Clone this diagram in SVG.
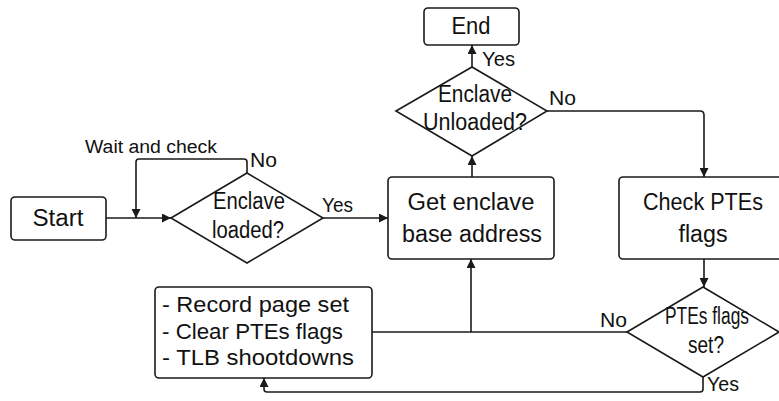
<svg xmlns="http://www.w3.org/2000/svg" width="779" height="401" viewBox="0 0 779 401">
<style>
.box{fill:#fff;stroke:#1a1a1a;stroke-width:1.6}
.dia{fill:#fff;stroke:#1a1a1a;stroke-width:1.6;stroke-linejoin:miter}
.ln{fill:none;stroke:#1a1a1a;stroke-width:1.6}
text{font-family:"Liberation Sans",Arial,sans-serif;fill:#111}
.t{font-size:23px;text-anchor:middle}
.d{font-size:23px;text-anchor:middle}
.l{font-size:21px}
.s{font-size:18px}
.r{font-size:22px}
</style>
<defs>
<marker id="ah" viewBox="0 0 10 10" refX="10" refY="5" markerWidth="9" markerHeight="9" orient="auto" markerUnits="userSpaceOnUse">
<path d="M0,0 L10,5 L0,10 z" fill="#1a1a1a"/>
</marker>
</defs>
<rect width="779" height="401" fill="#fff"/>
<g id="connectors">
<path class="ln" d="M106,218 H171" marker-end="url(#ah)"/>
<path class="ln" d="M247,173 V162 Q247,159 244,159 H139 Q136,159 136,162 V218" marker-end="url(#ah)"/>
<path class="ln" d="M323,218 H388" marker-end="url(#ah)"/>
<path class="ln" d="M472,177 V156" marker-end="url(#ah)"/>
<path class="ln" d="M472,67 V45" marker-end="url(#ah)"/>
<path class="ln" d="M547,111 H700 Q704,111 704,115 V177" marker-end="url(#ah)"/>
<path class="ln" d="M704,259 V287" marker-end="url(#ah)"/>
<path class="ln" d="M627,332 H372"/>
<path class="ln" d="M471,332 V259" marker-end="url(#ah)"/>
<path class="ln" d="M703,377 V389 Q703,392 700,392 H267 Q264,392 264,389 V378" marker-end="url(#ah)"/>
<text class="s" x="85" y="153" textLength="132" lengthAdjust="spacingAndGlyphs">Wait and check</text>
<text class="l" x="250" y="167" textLength="27" lengthAdjust="spacingAndGlyphs">No</text>
<text class="l" x="322" y="212" textLength="31" lengthAdjust="spacingAndGlyphs">Yes</text>
<text class="l" x="482" y="66" textLength="33" lengthAdjust="spacingAndGlyphs">Yes</text>
<text class="l" x="549" y="105" textLength="27" lengthAdjust="spacingAndGlyphs">No</text>
<text class="l" x="600" y="327" textLength="27" lengthAdjust="spacingAndGlyphs">No</text>
<text class="l" x="707" y="391" textLength="32" lengthAdjust="spacingAndGlyphs">Yes</text>
</g>
<g id="start">
<rect class="box" x="11" y="197" width="95" height="43" rx="4"/>
<text class="t" x="58" y="226" textLength="51" lengthAdjust="spacingAndGlyphs">Start</text>
</g>
<g id="enclave-loaded">
<polygon class="dia" points="171,218 247,173 323,218 247,263"/>
<text class="d" x="249" y="209" textLength="72" lengthAdjust="spacingAndGlyphs">Enclave</text>
<text class="d" x="248" y="238" textLength="72" lengthAdjust="spacingAndGlyphs">loaded?</text>
</g>
<g id="get-base">
<rect class="box" x="388" y="177" width="166" height="82" rx="4"/>
<text class="t" x="471" y="210" textLength="127" lengthAdjust="spacingAndGlyphs">Get enclave</text>
<text class="t" x="472" y="242" textLength="140" lengthAdjust="spacingAndGlyphs">base address</text>
</g>
<g id="enclave-unloaded">
<polygon class="dia" points="396,111 472,67 547,111 472,156"/>
<text class="d" x="475" y="102" textLength="74" lengthAdjust="spacingAndGlyphs">Enclave</text>
<text class="d" x="475" y="130" textLength="104" lengthAdjust="spacingAndGlyphs">Unloaded?</text>
</g>
<g id="end">
<rect class="box" x="424" y="8" width="95" height="37" rx="4"/>
<text class="t" x="471" y="34" textLength="39" lengthAdjust="spacingAndGlyphs">End</text>
</g>
<g id="check-ptes">
<rect class="box" x="619" y="177" width="172" height="82" rx="4"/>
<text class="t" x="703" y="210" textLength="120" lengthAdjust="spacingAndGlyphs">Check PTEs</text>
<text class="t" x="703" y="242" textLength="49" lengthAdjust="spacingAndGlyphs">flags</text>
</g>
<g id="ptes-set">
<polygon class="dia" points="627,332 703,287 779,332 703,377"/>
<text class="d" x="707" y="324" textLength="84" lengthAdjust="spacingAndGlyphs">PTEs flags</text>
<text class="d" x="706" y="353" textLength="36" lengthAdjust="spacingAndGlyphs">set?</text>
</g>
<g id="record">
<rect class="box" x="155" y="287" width="217" height="91" rx="4"/>
<text class="r" x="162" y="312" textLength="187" lengthAdjust="spacingAndGlyphs">- Record page set</text>
<text class="r" x="162" y="339" textLength="181" lengthAdjust="spacingAndGlyphs">- Clear PTEs flags</text>
<text class="r" x="162" y="365" textLength="192" lengthAdjust="spacingAndGlyphs">- TLB shootdowns</text>
</g>
</svg>
